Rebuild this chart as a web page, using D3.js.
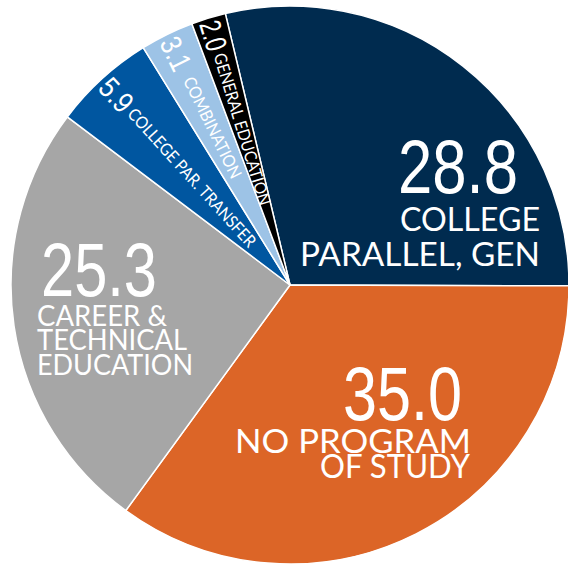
<!DOCTYPE html>
<html>
<head>
<meta charset="utf-8">
<script src="https://cdn.jsdelivr.net/npm/d3@7"></script>
<style>
  html, body { margin: 0; padding: 0; background: #ffffff; }
  svg { display: block; }
</style>
</head>
<body>
<svg id="chart" width="568" height="565"></svg>
<script>
// Share of students by program of study (percent)
const categories = ["COLLEGE PARALLEL, GEN", "NO PROGRAM OF STUDY", "CAREER & TECHNICAL EDUCATION",
                    "COLLEGE PAR. TRANSFER", "COMBINATION", "GENERAL EDUCATION"];
const values = [28.8, 35.0, 25.3, 5.9, 3.1, 2.0];
const labelLines = [["COLLEGE", "PARALLEL, GEN"], ["NO PROGRAM", "OF STUDY"],
                    ["CAREER &", "TECHNICAL", "EDUCATION"],
                    ["COLLEGE PAR. TRANSFER"], ["COMBINATION"], ["GENERAL EDUCATION"]];
const colors = ["#002b4f", "#dc6527", "#a6a6a6", "#0056a0", "#9dc3e6", "#000000"];

const width = 568, height = 565;
const cx = 290, cy = 285, radius = 279;
const start = -13.4 * Math.PI / 180;

const svg = d3.select("#chart");
const g = svg.append("g").attr("transform", `translate(${cx},${cy})`);

const data = categories.map((c, i) => ({ name: c, value: values[i], lines: labelLines[i], color: colors[i] }));

const pie = d3.pie().sort(null).value(d => d.value)
  .startAngle(start).endAngle(start + 2 * Math.PI);
const arcs = pie(data);
const arc = d3.arc().innerRadius(0).outerRadius(radius);

g.selectAll("path.slice").data(arcs).join("path")
  .attr("class", "slice")
  .attr("d", arc)
  .attr("fill", d => d.data.color)
  .attr("stroke", "#ffffff")
  .attr("stroke-width", 1.5)
  .attr("stroke-linejoin", "round");

const numFont = "'Liberation Sans Narrow', 'Arial Narrow', sans-serif";
const textFont = "Lato, 'Noto Sans', sans-serif";

// Large slices: value on top, category name below (offsets from the pie centre)
const bigLayout = [
  { num: { x: 108, y: -92, len: 120 }, lines: [{ x: 110, y: -54, len: 140 }, { x: 10, y: -19, len: 240 }], size: 33 },
  { num: { x: 53, y: 135, len: 119 }, lines: [{ x: -55, y: 168, len: 236 }, { x: 30, y: 193, len: 150 }], size: 32 },
  { num: { x: -249, y: 11, len: 116 }, lines: [{ x: -253, y: 41, len: 130 }, { x: -253, y: 65, len: 150 }, { x: -253, y: 90, len: 156 }], size: 28 }
];

bigLayout.forEach((L, i) => {
  const d = arcs[i].data;
  const t = g.append("text").attr("fill", "#ffffff");
  t.append("tspan")
    .attr("x", L.num.x).attr("y", L.num.y)
    .attr("font-family", numFont).attr("font-size", 76)
    .attr("textLength", L.num.len).attr("lengthAdjust", "spacingAndGlyphs")
    .text(d3.format(".1f")(d.value));
  d.lines.forEach((line, j) => {
    t.append("tspan")
      .attr("x", L.lines[j].x).attr("y", L.lines[j].y)
      .attr("font-family", textFont).attr("font-size", L.size)
      .attr("textLength", L.lines[j].len).attr("lengthAdjust", "spacingAndGlyphs")
      .text(line);
  });
});

// Thin slices: value and name run radially along the slice bisector, outside in
const thinLayout = [
  { r0: 275, numLen: 35, gap: 4, labLen: 181 },
  { r0: 275, numLen: 34, gap: 10, labLen: 111 },
  { r0: 276, numLen: 30, gap: 4, labLen: 158 }
];

thinLayout.forEach((L, k) => {
  const a = arcs[k + 3];
  const mid = (a.startAngle + a.endAngle) / 2;
  const rot = mid * 180 / Math.PI + 90;
  const x0 = L.r0 * Math.sin(mid), y0 = -L.r0 * Math.cos(mid);
  const t = g.append("text")
    .attr("transform", `translate(${x0},${y0}) rotate(${rot})`)
    .attr("fill", "#ffffff");
  t.append("tspan")
    .attr("x", 0).attr("y", 0).attr("dy", "0.36em")
    .attr("font-family", numFont).attr("font-size", 30)
    .attr("textLength", L.numLen).attr("lengthAdjust", "spacingAndGlyphs")
    .text(d3.format(".1f")(a.data.value));
  t.append("tspan")
    .attr("x", L.numLen + L.gap).attr("y", 0).attr("dy", "0.36em")
    .attr("font-family", textFont).attr("font-size", 17)
    .attr("textLength", L.labLen).attr("lengthAdjust", "spacingAndGlyphs")
    .text(a.data.lines[0]);
});
</script>
</body>
</html>
